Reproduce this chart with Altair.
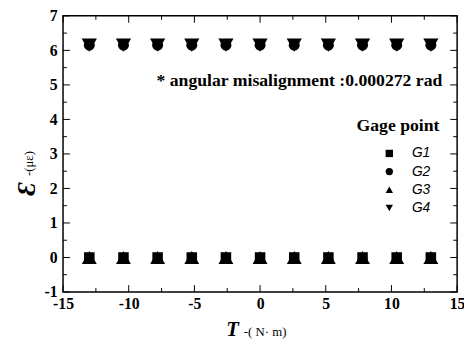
import altair as alt
import pandas as pd

# ---- data ----
torque = [-13.0, -10.4, -7.8, -5.2, -2.6, 0.0, 2.6, 5.2, 7.8, 10.4, 13.0]
g1 = [0.0, 0.0, 0.0, 0.0, 0.0, 0.0, 0.0, 0.0, 0.0, 0.0, 0.0]
g2 = [6.15, 6.15, 6.15, 6.15, 6.15, 6.15, 6.15, 6.15, 6.15, 6.15, 6.15]
g3 = [0.0, 0.0, 0.0, 0.0, 0.0, 0.0, 0.0, 0.0, 0.0, 0.0, 0.0]
g4 = [6.15, 6.15, 6.15, 6.15, 6.15, 6.15, 6.15, 6.15, 6.15, 6.15, 6.15]
series_names = ["G1", "G2", "G3", "G4"]
series_shapes = ["square", "circle", "triangle-up", "triangle-down"]
series_sizes = [115, 125, 230, 240]

x_major = [-15, -10, -5, 0, 5, 10, 15]
x_minor = [-12.5, -7.5, -2.5, 2.5, 7.5, 12.5]
y_major = [-1, 0, 1, 2, 3, 4, 5, 6, 7]
y_minor = [-0.5, 0.5, 1.5, 2.5, 3.5, 4.5, 5.5, 6.5]

annotation = "* angular misalignment :0.000272 rad"
legend_title = "Gage point"

W, H = 401, 281
SERIF = "Liberation Serif, Times New Roman, Times, DejaVu Serif, serif"
SANS = "Liberation Sans, Arial, DejaVu Sans, sans-serif"

xs = alt.Scale(domain=[-15, 15], nice=False, zero=False)
ys = alt.Scale(domain=[-1, 7], nice=False, zero=False)
shape_scale = alt.Scale(domain=series_names, range=series_shapes)
x_axis = alt.Axis(values=x_major, labelOverlap=False, labelFlush=False,
                  labelExpr="toString(datum.value)")
y_axis = alt.Axis(values=y_major, labelOverlap=False, labelFlush=False,
                  labelExpr="toString(datum.value)")

point_layers = []
for i, (name, vals, sz) in enumerate(zip(series_names, [g1, g2, g3, g4], series_sizes)):
    d = pd.DataFrame({"T": torque, "E": vals, "Gage": [name] * len(torque)})
    shape_kw = dict(scale=shape_scale)
    if i == 0:
        shape_kw["legend"] = alt.Legend(
            title=None,
            orient="none",
            legendX=325,
            legendY=133,
            padding=0,
            symbolSize=56,
            symbolFillColor="black",
            symbolStrokeColor="black",
            symbolStrokeWidth=0,
            symbolOpacity=1,
            labelFont=SANS,
            labelFontStyle="italic",
            labelFontSize=14,
            labelColor="black",
            labelOffset=16,
            rowPadding=4.5,
            values=series_names,
        )
    layer = alt.Chart(d).mark_point(
        filled=True, opacity=1, color="black", strokeWidth=0, size=sz
    ).encode(
        x=alt.X("T:Q", scale=xs, title=None, axis=x_axis),
        y=alt.Y("E:Q", scale=ys, title=None, axis=y_axis),
        shape=alt.Shape("Gage:N", **shape_kw),
    )
    point_layers.append(layer)


def xticks(vals, length, top):
    d = pd.DataFrame({"v": vals})
    if top:
        yv, y2v = alt.value(0), alt.value(length)
    else:
        yv, y2v = alt.value(H), alt.value(H - length)
    return alt.Chart(d).mark_rule(color="black", strokeWidth=1).encode(
        x=alt.X("v:Q", scale=xs, title=None, axis=x_axis), y=yv, y2=y2v
    )


def yticks(vals, length, right):
    d = pd.DataFrame({"v": vals})
    if right:
        xv, x2v = alt.value(W), alt.value(W - length)
    else:
        xv, x2v = alt.value(0), alt.value(length)
    return alt.Chart(d).mark_rule(color="black", strokeWidth=1).encode(
        y=alt.Y("v:Q", scale=ys, title=None, axis=y_axis), x=xv, x2=x2v
    )


ticks = [
    xticks(x_major, 7, False), xticks(x_minor, 4, False),
    xticks(x_major, 7, True), xticks(x_minor, 4, True),
    yticks(y_major, 7, False), yticks(y_minor, 4, False),
    yticks(y_major, 7, True), yticks(y_minor, 4, True),
]


def label(text, x, y, size, weight="normal", style="normal", align="left",
          baseline="alphabetic", angle=0, font=SERIF):
    return alt.Chart(pd.DataFrame({"t": [text]})).mark_text(
        font=font, fontSize=size, fontWeight=weight, fontStyle=style,
        align=align, baseline=baseline, angle=angle, color="black",
    ).encode(x=alt.value(x), y=alt.value(y), text="t:N")


texts = [
    label(annotation, 386, 71, 18, weight="bold", align="right"),
    label(legend_title, 383, 117, 18, weight="bold", align="right"),
    # x-axis title
    label("T", 166, 326, 21, weight="bold", style="italic"),
    label("-( N· m)", 184, 326, 13),
    # y-axis title (rotated)
    label("Ɛ", -37, 183, 26, weight="bold", style="italic", angle=270, baseline="middle"),
    label("-(με)", -35, 163, 13, angle=270, baseline="middle"),
]

chart = alt.layer(*ticks, *point_layers, *texts).properties(
    width=W,
    height=H,
    autosize=alt.AutoSizeParams(type="none"),
    padding={"left": 56, "top": 5, "right": 7, "bottom": 55},
).configure_view(
    stroke="black", strokeWidth=1.5
).configure_axis(
    grid=False,
    domain=False,
    ticks=False,
    tickSize=0,
    labelFont=SERIF,
    labelFontWeight="bold",
    labelFontSize=16,
    labelColor="black",
    labelFlush=False,
    labelOverlap=False,
).configure_axisX(
    labelPadding=4,
).configure_axisY(
    labelPadding=6,
)

chart.save("out.html", embed_options={"renderer": "svg", "actions": False})
